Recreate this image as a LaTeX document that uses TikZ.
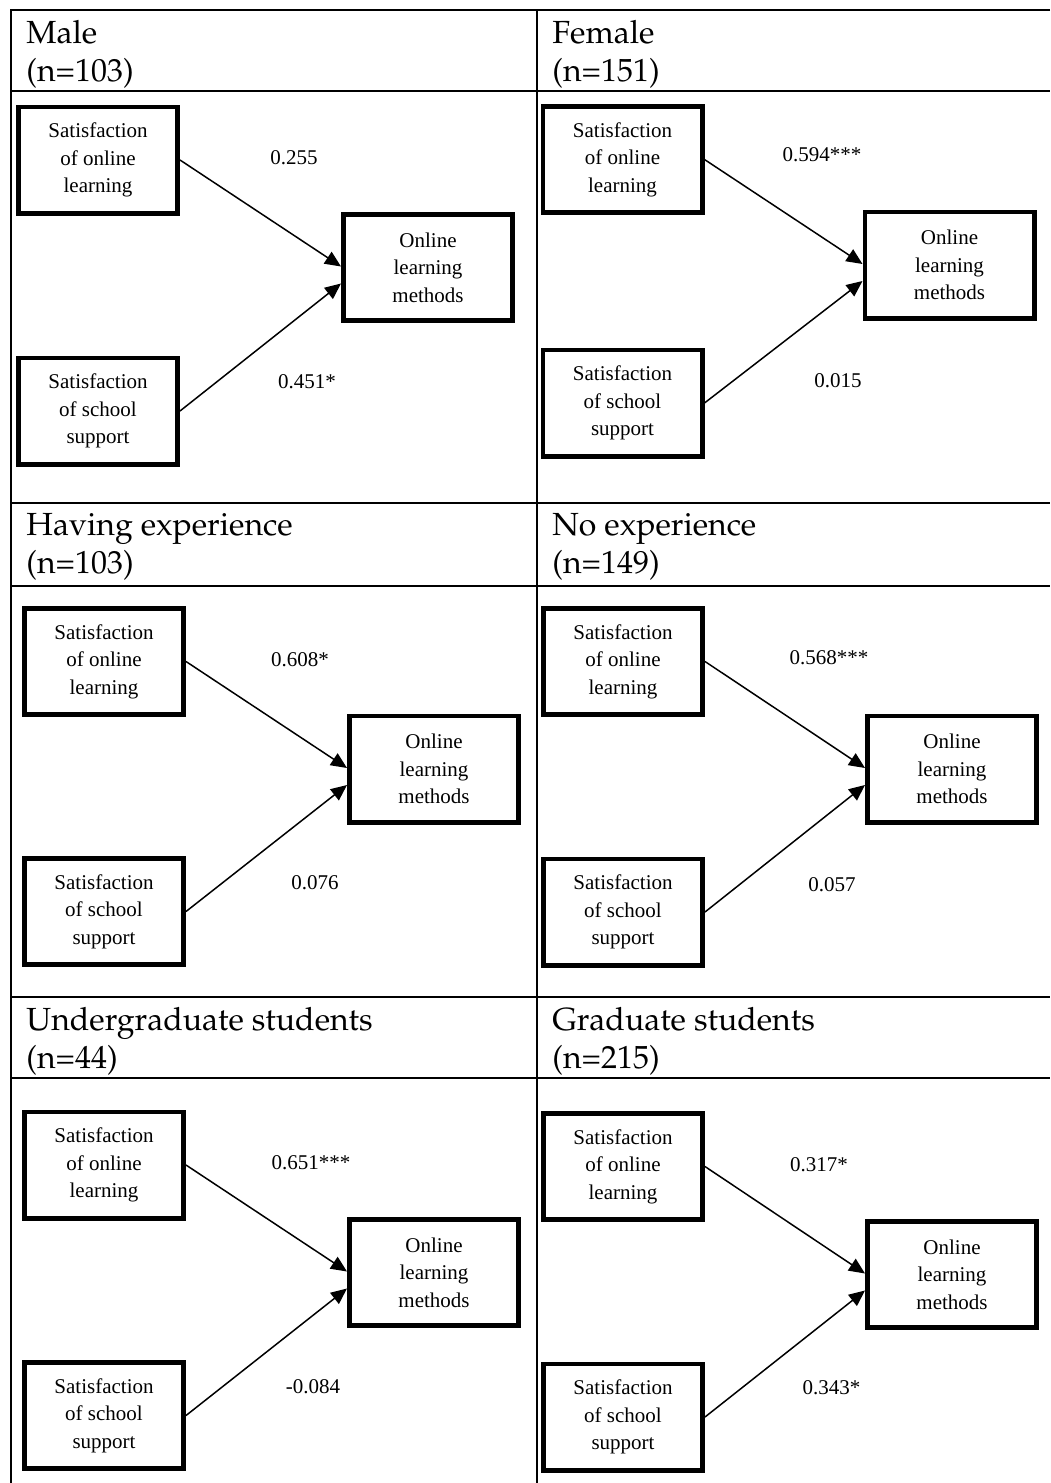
\documentclass[tikz,border=0pt]{standalone}
\usepackage[T1,TU]{fontenc}
\usepackage{fontspec}
\setmainfont{Liberation Serif}
\usepackage{tikz}
\usetikzlibrary{arrows.meta,positioning,calc}
\newcommand{\palfont}{\fontencoding{T1}\fontfamily{ppl}\selectfont}

\begin{document}
\begin{tikzpicture}[x=0.5pt,y=-0.5pt,
    var/.style={rectangle, draw=black, line width=2.4pt,
                minimum width=79.6pt, minimum height=53.1pt, inner sep=1pt,
                align=center, font=\fontsize{10.5}{13.75}\selectfont},
    outcome/.style={var, minimum width=84.6pt},
    coef/.style={inner sep=0pt, font=\fontsize{10.5}{13.75}\selectfont},
    effect/.style={-{Triangle[length=8pt,width=7pt]}, line width=0.75pt},
    rule/.style={line width=1pt},
    grouptitle/.style={anchor=north west, inner sep=0pt, align=left,
                font=\palfont\fontsize{16}{19}\selectfont},
]
\useasboundingbox (0,0) rectangle (1050,1483);

% table
\draw[rule] (1050,10) -- (11,10) -- (11,1483);
\draw[rule] (537,10) -- (537,1483);
\foreach \y in {91,503,586,997,1078}
    \draw[rule] (11,\y) -- (1050,\y);

% group titles
\node[grouptitle] (tmale) at (26,20) {Male\\(n=103)};
\node[grouptitle] (tfemale) at (552,20) {Female\\(n=151)};
\node[grouptitle] (texp) at (26,513) {Having experience\\(n=103)};
\node[grouptitle] (tnoexp) at (552,513) {No experience\\(n=149)};
\node[grouptitle] (tugrad) at (26,1007) {Undergraduate students\\(n=44)};
\node[grouptitle] (tgrad) at (552,1007) {Graduate students\\(n=215)};

% male
\node[var] (m1) at (98,160) {Satisfaction\\of online\\learning};
\node[outcome] (mt) at (428,267.5) {Online\\learning\\methods};
\node[var] (m2) at (98,411) {Satisfaction\\of school\\support};
\draw[effect] (m1.east) -- ([yshift=0.5pt]mt.west);
\draw[effect] (m2.east) -- ([yshift=-8pt]mt.west);
\node[coef] (mc1) at (294,158) {0.255};
\node[coef] (mc2) at (307,382) {0.451*};

% female
\node[var] (f1) at (622.5,159.5) {Satisfaction\\of online\\learning};
\node[outcome] (ft) at (949.5,265) {Online\\learning\\methods};
\node[var] (f2) at (622.5,403) {Satisfaction\\of school\\support};
\draw[effect] (f1.east) -- ([yshift=0.5pt]ft.west);
\draw[effect] (f2.east) -- ([yshift=-8pt]ft.west);
\node[coef] (fc1) at (822,155) {0.594***};
\node[coef] (fc2) at (838,381) {0.015};

% having experience
\node[var] (h1) at (104,661.5) {Satisfaction\\of online\\learning};
\node[outcome] (ht) at (434,769) {Online\\learning\\methods};
\node[var] (h2) at (104,911.5) {Satisfaction\\of school\\support};
\draw[effect] (h1.east) -- ([yshift=0.5pt]ht.west);
\draw[effect] (h2.east) -- ([yshift=-8pt]ht.west);
\node[coef] (hc1) at (300,660) {0.608*};
\node[coef] (hc2) at (315,883) {0.076};

% no experience
\node[var] (n1) at (623,661.5) {Satisfaction\\of online\\learning};
\node[outcome] (nt) at (952,769) {Online\\learning\\methods};
\node[var] (n2) at (623,912) {Satisfaction\\of school\\support};
\draw[effect] (n1.east) -- ([yshift=0.5pt]nt.west);
\draw[effect] (n2.east) -- ([yshift=-8pt]nt.west);
\node[coef] (nc1) at (829,658) {0.568***};
\node[coef] (nc2) at (832,885) {0.057};

% undergraduate
\node[var] (u1) at (104,1165) {Satisfaction\\of online\\learning};
\node[outcome] (ut) at (434,1272.5) {Online\\learning\\methods};
\node[var] (u2) at (104,1415.5) {Satisfaction\\of school\\support};
\draw[effect] (u1.east) -- ([yshift=0.5pt]ut.west);
\draw[effect] (u2.east) -- ([yshift=-8pt]ut.west);
\node[coef] (uc1) at (311,1163) {0.651***};
\node[coef] (uc2) at (313,1387) {-0.084};

% graduate
\node[var] (g1) at (623,1166.5) {Satisfaction\\of online\\learning};
\node[outcome] (gt) at (952,1274.5) {Online\\learning\\methods};
\node[var] (g2) at (623,1417) {Satisfaction\\of school\\support};
\draw[effect] (g1.east) -- ([yshift=0.5pt]gt.west);
\draw[effect] (g2.east) -- ([yshift=-8pt]gt.west);
\node[coef] (gc1) at (819,1165) {0.317*};
\node[coef] (gc2) at (831.5,1388) {0.343*};

\end{tikzpicture}
\end{document}
